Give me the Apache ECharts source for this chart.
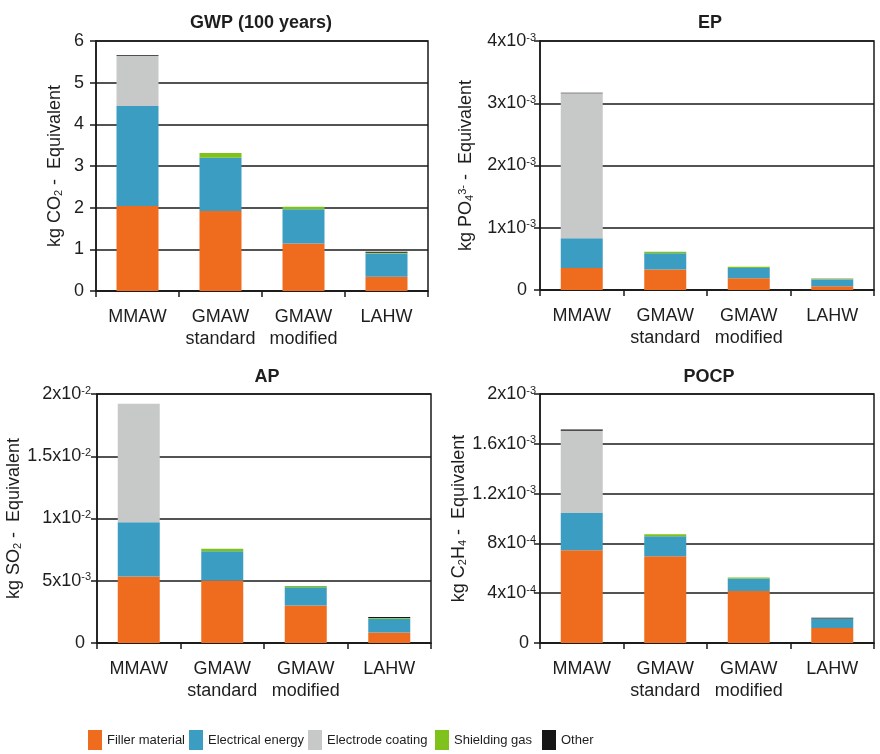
<!DOCTYPE html>
<html>
<head>
<meta charset="utf-8">
<script src="https://cdn.jsdelivr.net/npm/echarts@6/dist/echarts.min.js"></script>
<style>
html,body{margin:0;padding:0;background:#fff;}
#chart{width:880px;height:754px;}
</style>
</head>
<body>
<div id="chart"></div>
<script>
// ---- Data ----
const categories = ['MMAW', 'GMAW\nstandard', 'GMAW\nmodified', 'LAHW'];
const seriesNames = ['Filler material', 'Electrical energy', 'Electrode coating', 'Shielding gas', 'Other'];

// GWP (100 years), kg CO2-eq
const gwpFiller     = [2.04, 1.92, 1.14, 0.34];
const gwpElectrical = [2.40, 1.28, 0.82, 0.56];
const gwpCoating    = [1.20, 0, 0, 0];
const gwpShielding  = [0, 0.11, 0.06, 0.02];
const gwpOther      = [0.02, 0, 0, 0.02];
const gwpTicks = ['0', '1', '2', '3', '4', '5', '6'];

// EP, kg PO4-eq
const epFiller     = [0.354e-3, 0.33e-3, 0.19e-3, 0.06e-3];
const epElectrical = [0.476e-3, 0.26e-3, 0.164e-3, 0.11e-3];
const epCoating    = [2.33e-3, 0, 0, 0];
const epShielding  = [0, 0.026e-3, 0.021e-3, 0.005e-3];
const epOther      = [0.01e-3, 0, 0, 0.005e-3];
const epTicks = ['0', '1x10^-3', '2x10^-3', '3x10^-3', '4x10^-3'];

// AP, kg SO2-eq
const apFiller     = [0.535e-2, 0.503e-2, 0.302e-2, 0.085e-2];
const apElectrical = [0.434e-2, 0.233e-2, 0.145e-2, 0.11e-2];
const apCoating    = [0.953e-2, 0, 0, 0];
const apShielding  = [0, 0.021e-2, 0.011e-2, 0.005e-2];
const apOther      = [0, 0, 0, 0.008e-2];
const apTicks = ['0', '5x10^-3', '1x10^-2', '1.5x10^-2', '2x10^-2'];

// POCP, kg C2H4-eq
const pocpFiller     = [7.45e-4, 6.97e-4, 4.17e-4, 1.2e-4];
const pocpElectrical = [2.99e-4, 1.6e-4, 1.01e-4, 0.75e-4];
const pocpCoating    = [6.61e-4, 0, 0, 0];
const pocpShielding  = [0, 0.16e-4, 0.08e-4, 0.02e-4];
const pocpOther      = [0.1e-4, 0, 0, 0.06e-4];
const pocpTicks = ['0', '4x10^-4', '8x10^-4', '1.2x10^-3', '1.6x10^-3', '2x10^-3'];

// ---- Styles ----
const colors = ['#EF6B1D', '#3C9DC2', '#C7C8C8', '#7EC21B', '#161616'];
const FONT = '"Liberation Sans", Arial, sans-serif';
const TXT = '#1e1e1e';
const LINE = '#1a1a1a';

const panels = [
  { title: 'GWP (100 years)', tx: 256, ty: 9,
    grid: { left: 96, top: 41, width: 332, height: 250 },
    max: 6, interval: 1, ticks: gwpTicks, margin: 12, zeroPad: 0,
    name: '{t|kg CO}{sub|2}{t| -  Equivalent}', nameGap: 32,
    data: [gwpFiller, gwpElectrical, gwpCoating, gwpShielding, gwpOther] },
  { title: 'EP', tx: 705, ty: 9,
    grid: { left: 540, top: 41, width: 334, height: 249 },
    max: 4e-3, interval: 1e-3, ticks: epTicks, margin: 4, zeroPad: 9,
    name: '{t|kg PO}{sub|4}{sup|3-}{t| -  Equivalent}', nameGap: 65,
    data: [epFiller, epElectrical, epCoating, epShielding, epOther] },
  { title: 'AP', tx: 262, ty: 363,
    grid: { left: 97, top: 394, width: 334, height: 249 },
    max: 2e-2, interval: 5e-3, ticks: apTicks, margin: 6, zeroPad: 6,
    name: '{t|kg SO}{sub|2}{t| -  Equivalent}', nameGap: 71,
    data: [apFiller, apElectrical, apCoating, apShielding, apOther] },
  { title: 'POCP', tx: 704, ty: 363,
    grid: { left: 540, top: 394, width: 334, height: 249 },
    max: 2e-3, interval: 4e-4, ticks: pocpTicks, margin: 4, zeroPad: 7,
    name: '{t|kg C}{sub|2}{t|H}{sub|4}{t| -  Equivalent}', nameGap: 61,
    data: [pocpFiller, pocpElectrical, pocpCoating, pocpShielding, pocpOther] }
];

function tickFormatter(ticks) {
  return function (v, i) {
    const t = ticks[i];
    if (t === undefined) return '';
    if (t.indexOf('^') < 0) return '{z|' + t + '}';
    const parts = t.split('^');
    return '{b|' + parts[0] + '}{s|' + parts[1] + '}';
  };
}

const option = {
  animation: false,
  backgroundColor: '#ffffff',
  textStyle: { fontFamily: FONT },
  title: [],
  grid: [],
  xAxis: [],
  yAxis: [],
  series: [],
  legend: []
};

panels.forEach(function (p, k) {
  option.title.push({
    text: p.title, left: p.tx, top: p.ty, textAlign: 'center',
    textStyle: { fontFamily: FONT, fontSize: 18, fontWeight: 'bold', color: TXT }
  });
  option.grid.push(Object.assign({
    show: true, borderColor: LINE, borderWidth: 1.5, backgroundColor: 'transparent',
    containLabel: false, outerBoundsMode: 'none'
  }, p.grid));
  option.xAxis.push({
    type: 'category', gridIndex: k, data: categories, boundaryGap: true,
    axisLine: { show: true, lineStyle: { color: LINE, width: 1.5 } },
    axisTick: { show: true, length: 6, lineStyle: { color: LINE, width: 1.5 } },
    axisLabel: { fontFamily: FONT, fontSize: 18, color: TXT, margin: 15, lineHeight: 22, interval: 0 },
    splitLine: { show: false }
  });
  option.yAxis.push({
    type: 'value', gridIndex: k, min: 0, max: p.max, interval: p.interval,
    name: p.name, nameLocation: 'middle', nameGap: p.nameGap,
    nameTextStyle: {
      fontFamily: FONT, color: TXT,
      rich: {
        t: { fontFamily: FONT, fontSize: 18, color: TXT },
        sub: { fontFamily: FONT, fontSize: 11, color: TXT, verticalAlign: 'bottom' },
        sup: { fontFamily: FONT, fontSize: 11, color: TXT, verticalAlign: 'top' }
      }
    },
    axisLine: { show: true, lineStyle: { color: LINE, width: 1.5 } },
    axisTick: { show: true, length: 6, lineStyle: { color: LINE, width: 1.5 } },
    axisLabel: {
      margin: p.margin, formatter: tickFormatter(p.ticks),
      rich: {
        z: { fontFamily: FONT, fontSize: 18, color: TXT, padding: [0, p.zeroPad, 0, 0] },
        b: { fontFamily: FONT, fontSize: 18, color: TXT },
        s: { fontFamily: FONT, fontSize: 11, color: TXT, verticalAlign: 'top' }
      }
    },
    splitLine: { show: true, lineStyle: { color: LINE, width: 1.5 } }
  });
  seriesNames.forEach(function (nm, j) {
    option.series.push({
      type: 'bar', name: nm, stack: 'p' + k, xAxisIndex: k, yAxisIndex: k,
      data: p.data[j], barWidth: 42,
      itemStyle: { color: colors[j] },
      emphasis: { disabled: true }
    });
  });
});

const legendLefts = [88, 189, 308, 435, 542];
seriesNames.forEach(function (nm, j) {
  option.legend.push({
    data: [nm], left: legendLefts[j], top: 730, icon: 'rect',
    itemWidth: 14, itemHeight: 20, itemGap: 0, padding: 0,
    textStyle: { fontFamily: FONT, fontSize: 13, color: TXT }
  });
});

const chart = echarts.init(document.getElementById('chart'), null, { renderer: 'canvas' });
chart.setOption(option);
</script>
</body>
</html>
